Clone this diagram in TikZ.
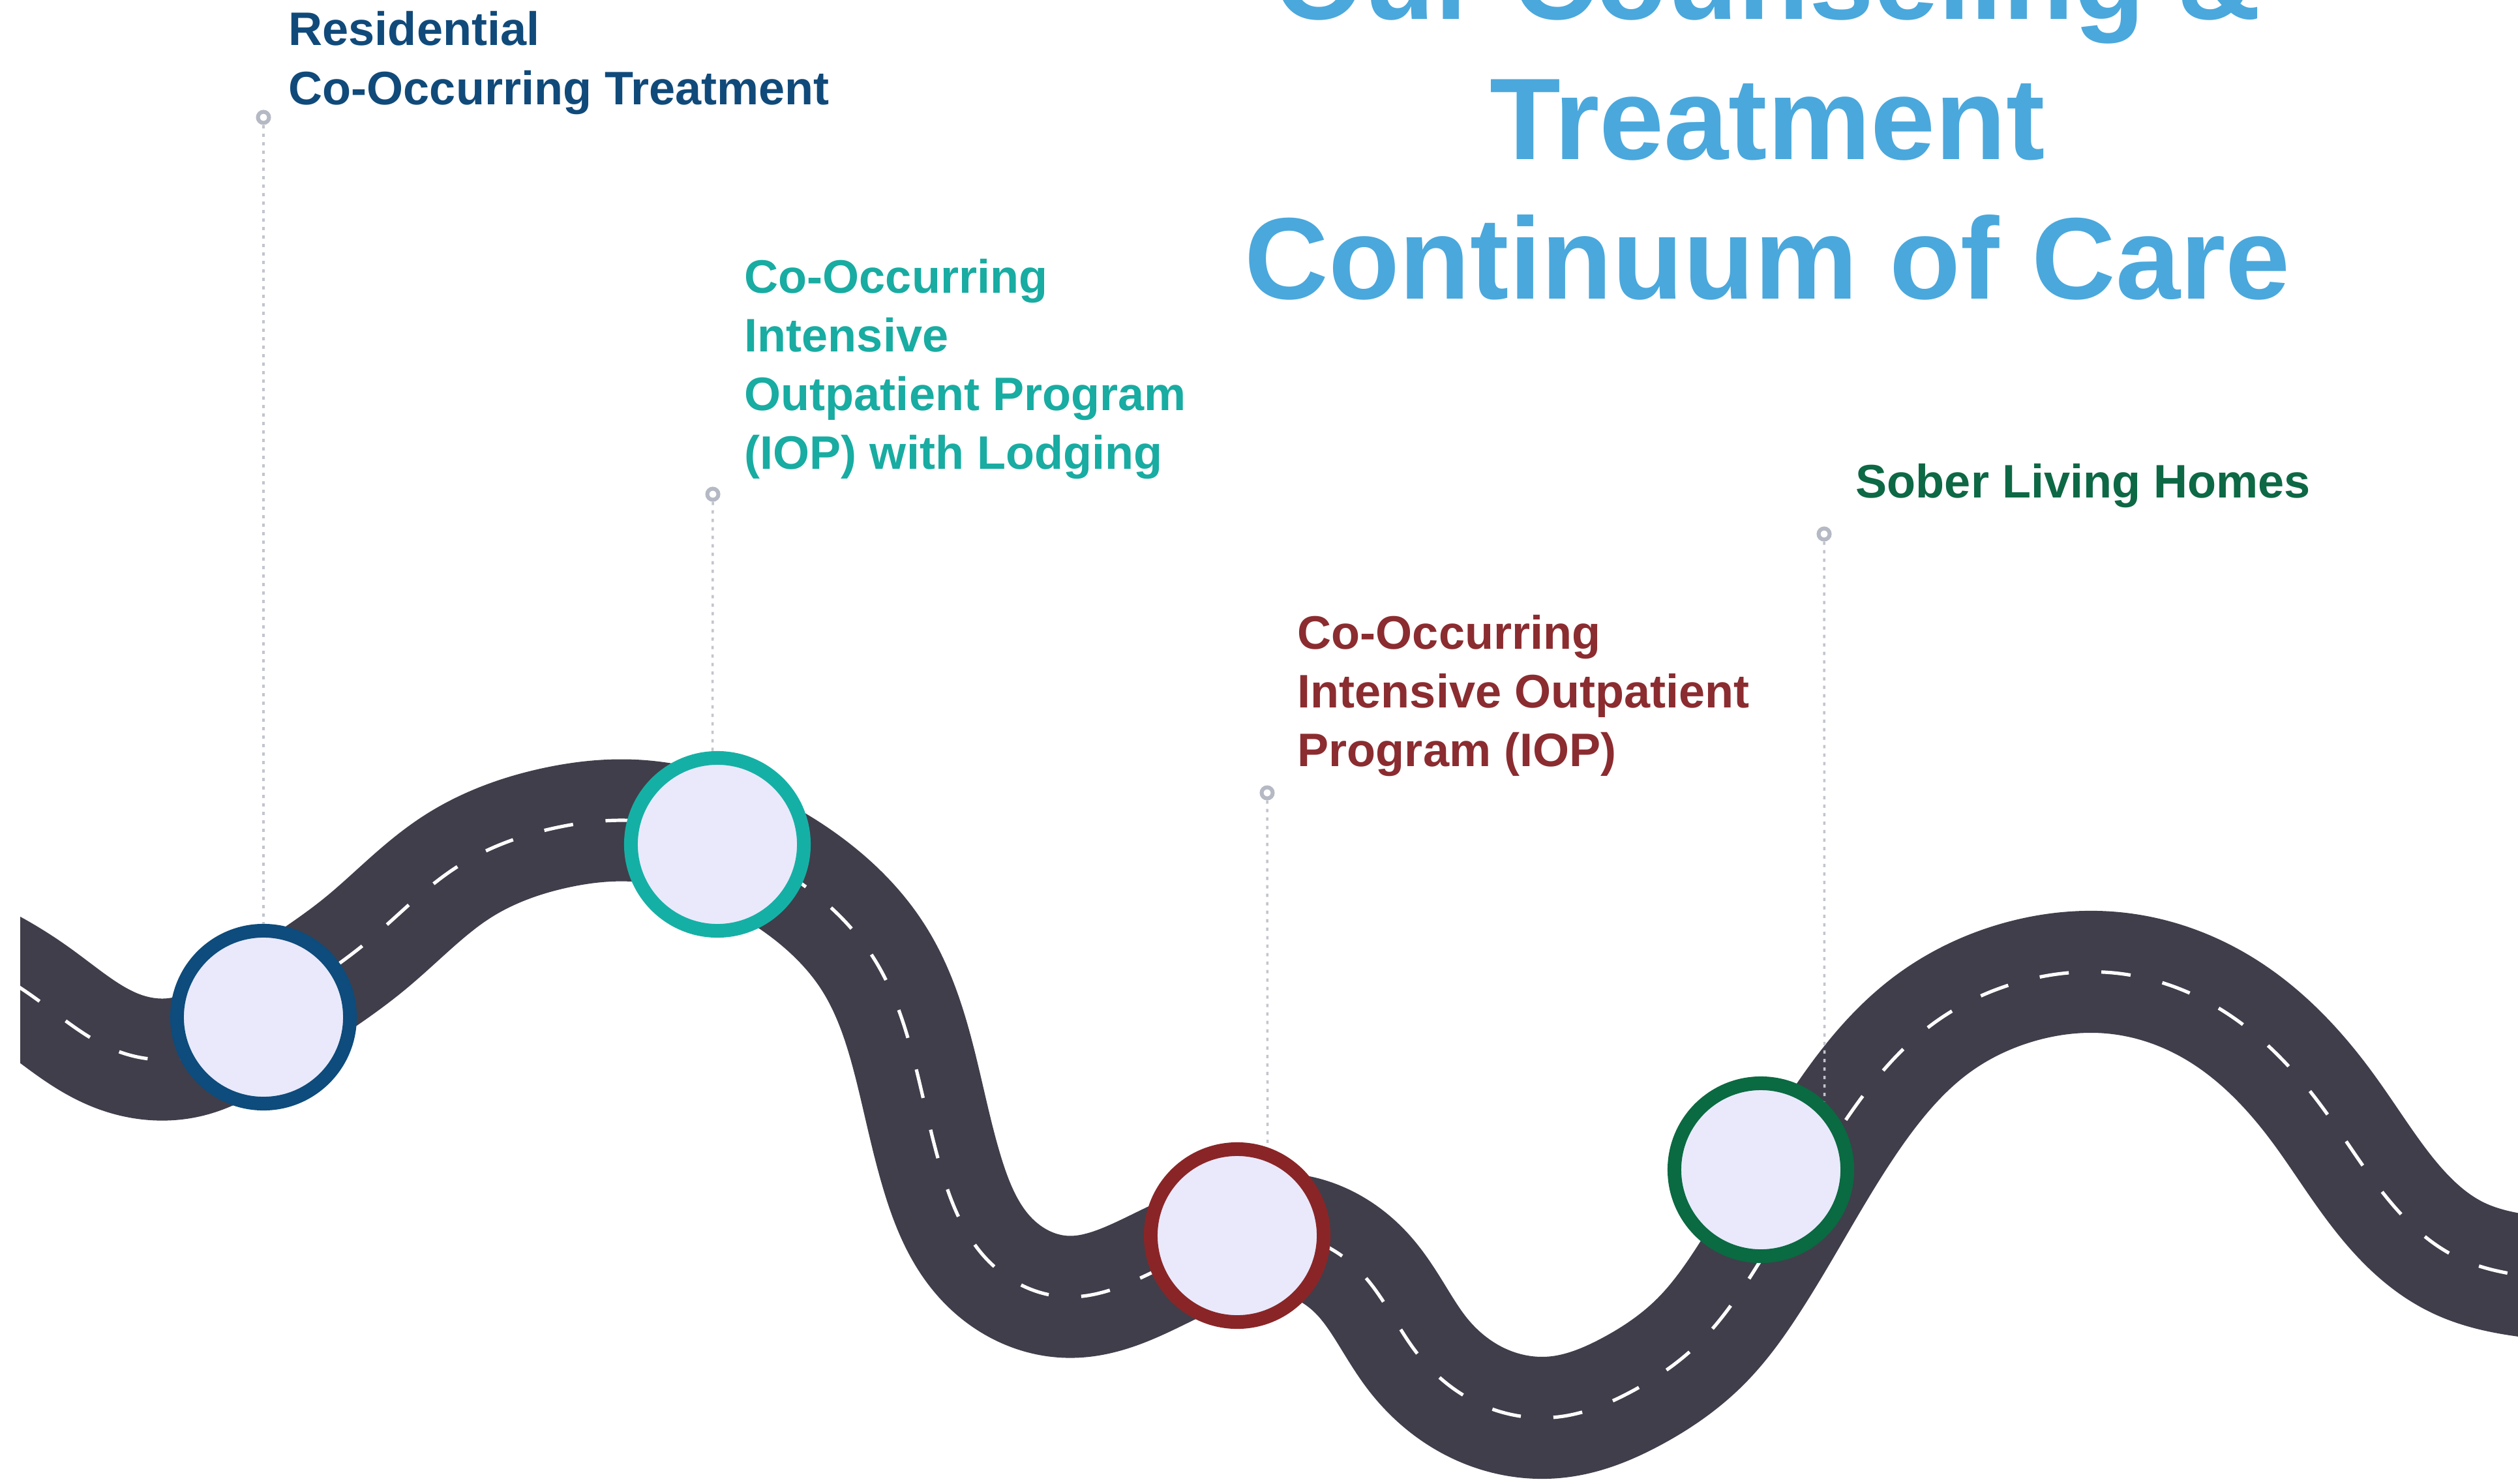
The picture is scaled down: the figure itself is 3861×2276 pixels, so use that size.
\documentclass[tikz,border=0pt]{standalone}
\usepackage{fontspec}
\setmainfont{Liberation Sans}
\usetikzlibrary{hobby}
\definecolor{roadc}{HTML}{403E4A}
\definecolor{ringfill}{HTML}{E9E9FB}
\definecolor{ringnavy}{HTML}{0D4C7C}
\definecolor{ringteal}{HTML}{15B0A5}
\definecolor{ringred}{HTML}{8A2527}
\definecolor{ringgreen}{HTML}{0A6A42}
\definecolor{navytext}{HTML}{104A7A}
\definecolor{tealtext}{HTML}{18ACA2}
\definecolor{redtext}{HTML}{8B2C30}
\definecolor{greentext}{HTML}{0D6845}
\definecolor{titleblue}{HTML}{4AA8DC}
\definecolor{leadgray}{HTML}{C2C5CD}
\definecolor{pingray}{HTML}{B5B9C4}
\begin{document}
\begin{tikzpicture}[x=0.01cm,y=-0.01cm,
  road/.style={line width=1.87cm, draw=roadc, line cap=butt, line join=round},
  lane/.style={draw=white, line width=0.052cm, dash pattern=on 0.45cm off 0.5cm},
  stop/.style={circle, minimum size=2.65cm, inner sep=0pt, line width=0.21cm, fill=ringfill},
  pinc/.style={circle, minimum size=0.17cm, inner sep=0pt, line width=0.06cm, draw=pingray, fill=white},
  leader/.style={line width=0.035cm, draw=leadgray, dash pattern=on 0.05cm off 0.08cm},
  lbl/.style={anchor=base west, inner sep=0pt, font=\fontsize{20.5pt}{25.6pt}\selectfont\bfseries},
  ttlstyle/.style={anchor=base, inner sep=0pt, text=titleblue, font=\fontsize{50.65pt}{60.9pt}\selectfont\bfseries}]
\useasboundingbox (0,0) rectangle (3861,2276);
\fill[white] (0,0) rectangle (3861,2276);
\clip (0,0) rectangle (3861,2276);

% road
\begin{scope}
\clip (31,0) rectangle (3900,2300);
\draw[use Hobby shortcut, road, postaction={lane}]
 (-60,1465) .. (50,1528) .. (180,1612) .. (290,1620) .. (404,1557) .. (560,1447) .. (700,1330)
 .. (850,1270) .. (980,1259) .. (1110,1290) .. (1230,1356) .. (1340,1470) .. (1405,1640)
 .. (1445,1800) .. (1510,1928) .. (1638,1989) .. (1780,1945) .. (1900,1898) .. (1995,1897)
 .. (2090,1955) .. (2174,2077) .. (2280,2158) .. (2390,2173) .. (2500,2135) .. (2608,2057)
 .. (2680,1964) .. (2846,1695) .. (2960,1573) .. (3100,1505) .. (3240,1492) .. (3400,1545)
 .. (3560,1697) .. (3645,1818) .. (3769,1929) .. (3880,1958) .. (3990,1966);
\end{scope}

% stops
\node[stop, draw=ringnavy] (s1) at (404,1560) {};
\node[stop, draw=ringteal] (s2) at (1100,1295) {};
\node[stop, draw=ringred] (s3) at (1897,1895) {};
\node[stop, draw=ringgreen] (s4) at (2700,1794) {};

% pins and leaders
\node[pinc] (t1) at (404,180) {};
\node[pinc] (t2) at (1093,758) {};
\node[pinc] (t3) at (1943,1216) {};
\node[pinc] (t4) at (2797,819) {};
\draw[leader] (t1.south) -- (s1.north);
\draw[leader] (t2.south) -- (s2.93);
\draw[leader] (t3.south) -- (s3.71);
\draw[leader] (t4.south) -- (s4.47);

% labels
\node[lbl, text=navytext] (l1) at (442,70) {\begin{tabular}[t]{@{}l@{}}Residential\\Co-Occurring Treatment\end{tabular}};
\node[lbl, text=tealtext] (l2) at (1141,449) {\begin{tabular}[t]{@{}l@{}}Co-Occurring\\Intensive\\Outpatient Program\\(IOP) with Lodging\end{tabular}};
\node[lbl, text=redtext] (l3) at (1989,995) {\begin{tabular}[t]{@{}l@{}}Co-Occurring\\Intensive Outpatient\\Program (IOP)\end{tabular}};
\node[lbl, text=greentext] (l4) at (2845,763) {Sober Living Homes};

% title
\node[ttlstyle] (ttl) at (2710,30) {\begin{tabular}[t]{@{}c@{}}Our Counseling \&\\Treatment\\Continuum of Care\end{tabular}};
\end{tikzpicture}
\end{document}
